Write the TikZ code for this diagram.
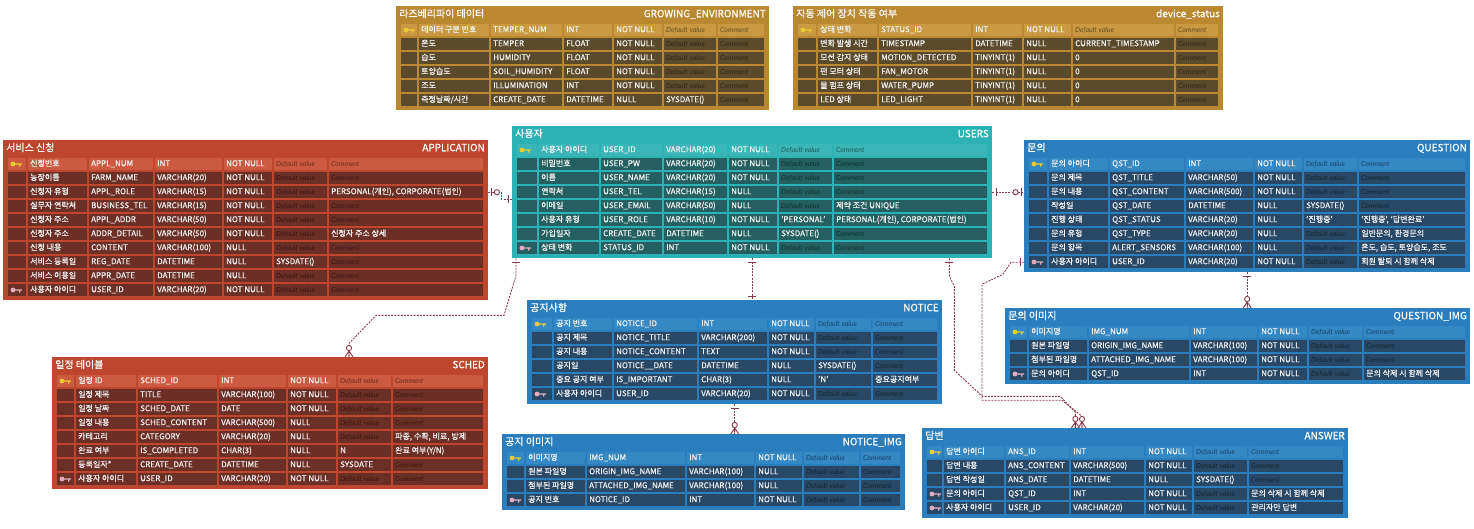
\documentclass[tikz,border=0pt]{standalone}
\usepackage{fontspec}
\setmainfont{Noto Sans CJK KR}[UprightFeatures={FakeBold=0.5}]
\newfontfamily\phfont{Lato}
\definecolor{goldtop}{RGB}{185,136,48}
\definecolor{goldhead}{RGB}{201,154,66}
\definecolor{goldbody}{RGB}{92,74,44}
\definecolor{redtop}{RGB}{190,70,46}
\definecolor{redhead}{RGB}{204,90,64}
\definecolor{redbody}{RGB}{108,47,37}
\definecolor{tealtop}{RGB}{44,178,180}
\definecolor{tealhead}{RGB}{58,182,184}
\definecolor{tealbody}{RGB}{36,96,98}
\definecolor{bluetop}{RGB}{42,126,190}
\definecolor{bluehead}{RGB}{52,136,196}
\definecolor{bluebody}{RGB}{40,72,102}
\definecolor{relcol}{RGB}{140,55,75}
\definecolor{pkcol}{RGB}{232,204,48}
\definecolor{fkcol}{RGB}{226,172,192}
\tikzset{
  tabframe/.style={anchor=north west,inner sep=0,draw=none},
  rowbox/.style={anchor=north west,inner sep=0,minimum height=14pt,draw=none},
  ttl/.style={inner sep=0,text=white,text height=7.5pt,text depth=2pt,font=\fontsize{10}{11}\selectfont},
  cell/.style={anchor=west,inner sep=0,text=white!95!black,text height=5.8pt,text depth=1.4pt,font=\fontsize{8}{9}\selectfont},
  pk/.style={fill=pkcol},
  fk/.style={fill=fkcol},
  nk/.style={opacity=0},
  rel/.style={draw=relcol,line width=0.9,dash pattern=on 2pt off 1.2pt},
  relmark/.style={draw=relcol,line width=0.9,solid},
  pone/.pic={\draw[relmark] (4,-4) -- (4,4);},
  pzeroone/.pic={\draw[relmark] (3,-4) -- (3,4); \draw[relmark,fill=white] (8.5,0) circle (2.6);},
  pzeromany/.pic={\draw[relmark] (0,-4) -- (6,0) -- (0,4) (0,0) -- (6,0); \draw[relmark,fill=white] (9,0) circle (2.6);}
}
% placeholders in the default and comment columns
\newcommand{\dflt}{{\color{\phc}\phfont\itshape\fontsize{7}{8}\selectfont Default value}}
\newcommand{\cmnt}{{\color{\phc}\phfont\itshape\fontsize{7}{8}\selectfont Comment}}
% #1 name, #2 colour set, #3 top, #4 rows, #5 korean title, #6 table name, #7 rows
\newcommand{\erdtable}[7]{%
  \node[tabframe,fill=#2top,minimum width={(\cR-\cK+8)*1pt},minimum height={(20+14*#4)*1pt}] (#1) at (\cK-4,#3) {};
  \node[ttl,anchor=west] (#1-kor) at (\cK-1,#3+8.5) {#5};
  \node[ttl,anchor=east] (#1-eng) at (\cR+1,#3+8.5) {#6};
  \foreach[count=\i] \ky/\lo/\py/\ty/\nn/\dfv/\cmt in {#7}{
    \pgfmathsetmacro\ry{#3+17+14*(\i-1)}
    \ifnum\i=1 \def\rc{#2head}\def\phc{#2head!50!black}\else\def\rc{#2body}\def\phc{#2body!50!black}\fi
    \node[rowbox,minimum width={(\cR-\cK)*1pt}] (#1-\i) at (\cK,\ry) {};
    \foreach \u/\v in {\cK/\cL,\cL/\cP,\cP/\cT,\cT/\cN,\cN/\cD,\cD/\cC,\cC/\cR}
      \fill[\rc] (\u+0.6,\ry+0.6) rectangle (\v-0.6,\ry+13.4);
    \fill[\ky] (\cK+6,\ry+7) circle (2.4) (\cK+8,\ry+6.3) rectangle (\cK+15,\ry+7.7) (\cK+12,\ry+7.7) rectangle (\cK+13.3,\ry+9.6);
    \node[cell] at (\cL+3,\ry+7) {\lo};
    \node[cell] at (\cP+3,\ry+7) {\py};
    \node[cell] at (\cT+3,\ry+7) {\ty};
    \node[cell] at (\cN+3,\ry+7) {\nn};
    \node[cell] at (\cD+3,\ry+7) {\dfv};
    \node[cell] at (\cC+3,\ry+7) {\cmt};
  }
}
\begin{document}
\begin{tikzpicture}[x=1pt,y=-1pt]
\useasboundingbox (0,0) rectangle (1474,528);
% sensor data
\def\cK{400}\def\cL{418}\def\cP{490}\def\cT{563}\def\cN{613}\def\cD{663}\def\cC{717}\def\cR{765}
\erdtable{grow}{gold}{6}{6}{라즈베리파이 데이터}{GROWING\_ENVIRONMENT}{%
  pk/데이터 구분 번호/TEMPER\_NUM/INT/NOT NULL/\dflt/\cmnt,
  nk/온도/TEMPER/FLOAT/NOT NULL/\dflt/\cmnt,
  nk/습도/HUMIDITY/FLOAT/NOT NULL/\dflt/\cmnt,
  nk/토양습도/SOIL\_HUMIDITY/FLOAT/NOT NULL/\dflt/\cmnt,
  nk/조도/ILLUMINATION/INT/NOT NULL/\dflt/\cmnt,
  nk/{측정날짜/시간}/CREATE\_DATE/DATETIME/NULL/SYSDATE()/\cmnt}
% device status
\def\cK{797}\def\cL{817}\def\cP{878}\def\cT{972}\def\cN{1023}\def\cD{1072}\def\cC{1175}\def\cR{1219}
\erdtable{dev}{gold}{6}{6}{자동 제어 장치 작동 여부}{device\_status}{%
  pk/상태 변화/STATUS\_ID/INT/NOT NULL/\dflt/\cmnt,
  nk/변화 발생 시간/TIMESTAMP/DATETIME/NULL/CURRENT\_TIMESTAMP/\cmnt,
  nk/모션 감지 상태/MOTION\_DETECTED/TINYINT(1)/NULL/0/\cmnt,
  nk/팬 모터 상태/FAN\_MOTOR/TINYINT(1)/NULL/0/\cmnt,
  nk/물 펌프 상태/WATER\_PUMP/TINYINT(1)/NULL/0/\cmnt,
  nk/LED 상태/LED\_LIGHT/TINYINT(1)/NULL/0/\cmnt}
% application
\def\cK{7}\def\cL{27}\def\cP{88}\def\cT{154}\def\cN{223}\def\cD{273}\def\cC{328}\def\cR{484}
\erdtable{app}{red}{140}{10}{서비스 신청}{APPLICATION}{%
  pk/신청번호/APPL\_NUM/INT/NOT NULL/\dflt/\cmnt,
  nk/농장이름/FARM\_NAME/VARCHAR(20)/NOT NULL/\dflt/\cmnt,
  nk/신청자 유형/APPL\_ROLE/VARCHAR(15)/NOT NULL/\dflt/{PERSONAL(개인), CORPORATE(법인)},
  nk/실무자 연락처/BUSINESS\_TEL/VARCHAR(15)/NOT NULL/\dflt/\cmnt,
  nk/신청자 주소/APPL\_ADDR/VARCHAR(50)/NOT NULL/\dflt/\cmnt,
  nk/신청자 주소/ADDR\_DETAIL/VARCHAR(50)/NOT NULL/\dflt/신청자 주소 상세,
  nk/신청 내용/CONTENT/VARCHAR(100)/NULL/\dflt/\cmnt,
  nk/서비스 등록일/REG\_DATE/DATETIME/NULL/SYSDATE()/\cmnt,
  nk/서비스 이용일/APPR\_DATE/DATETIME/NULL/\dflt/\cmnt,
  fk/사용자 아이디/USER\_ID/VARCHAR(20)/NOT NULL/\dflt/\cmnt}
% users
\def\cK{516}\def\cL{538}\def\cP{600}\def\cT{663}\def\cN{728}\def\cD{778}\def\cC{833}\def\cR{988}
\erdtable{users}{teal}{126}{8}{사용자}{USERS}{%
  pk/사용자 아이디/USER\_ID/VARCHAR(20)/NOT NULL/\dflt/\cmnt,
  nk/비밀번호/USER\_PW/VARCHAR(20)/NOT NULL/\dflt/\cmnt,
  nk/이름/USER\_NAME/VARCHAR(20)/NOT NULL/\dflt/\cmnt,
  nk/연락처/USER\_TEL/VARCHAR(15)/NULL/\dflt/\cmnt,
  nk/이메일/USER\_EMAIL/VARCHAR(50)/NULL/\dflt/제약 조건 UNIQUE,
  nk/사용자 유형/USER\_ROLE/VARCHAR(10)/NOT NULL/'PERSONAL'/{PERSONAL(개인), CORPORATE(법인)},
  nk/가입일자/CREATE\_DATE/DATETIME/NULL/SYSDATE()/\cmnt,
  fk/상태 변화/STATUS\_ID/INT/NOT NULL/\dflt/\cmnt}
% question
\def\cK{1028}\def\cL{1048}\def\cP{1109}\def\cT{1185}\def\cN{1254}\def\cD{1303}\def\cC{1358}\def\cR{1466}
\erdtable{question}{blue}{140}{8}{문의}{QUESTION}{%
  pk/문의 아이디/QST\_ID/INT/NOT NULL/\dflt/\cmnt,
  nk/문의 제목/QST\_TITLE/VARCHAR(50)/NOT NULL/\dflt/\cmnt,
  nk/문의 내용/QST\_CONTENT/VARCHAR(500)/NOT NULL/\dflt/\cmnt,
  nk/작성일/QST\_DATE/DATETIME/NULL/SYSDATE()/\cmnt,
  nk/진행 상태/QST\_STATUS/VARCHAR(20)/NULL/‘진행중’/{‘진행중’, ‘답변완료’},
  nk/문의 유형/QST\_TYPE/VARCHAR(20)/NULL/\dflt/{일반문의, 환경문의},
  nk/문의 항목/ALERT\_SENSORS/VARCHAR(100)/NULL/\dflt/{온도, 습도, 토양습도, 조도},
  fk/사용자 아이디/USER\_ID/VARCHAR(20)/NOT NULL/\dflt/회원 탈퇴 시 함께 삭제}
% notice
\def\cK{531}\def\cL{553}\def\cP{613}\def\cT{698}\def\cN{768}\def\cD{815}\def\cC{872}\def\cR{938}
\erdtable{notice}{blue}{300}{6}{공지사항}{NOTICE}{%
  pk/공지 번호/NOTICE\_ID/INT/NOT NULL/\dflt/\cmnt,
  nk/공지 제목/NOTICE\_TITLE/VARCHAR(200)/NOT NULL/\dflt/\cmnt,
  nk/공지 내용/NOTICE\_CONTENT/TEXT/NOT NULL/\dflt/\cmnt,
  nk/공지일/NOTICE\_\_DATE/DATETIME/NULL/SYSDATE()/\cmnt,
  nk/중요 공지 여부/IS\_IMPORTANT/CHAR(3)/NULL/'N'/중요공지여부,
  fk/사용자 아이디/USER\_ID/VARCHAR(20)/NOT NULL/\dflt/\cmnt}
% question images
\def\cK{1009}\def\cL{1028}\def\cP{1088}\def\cT{1190}\def\cN{1258}\def\cD{1308}\def\cC{1363}\def\cR{1466}
\erdtable{qimg}{blue}{308}{4}{문의 이미지}{QUESTION\_IMG}{%
  pk/이미지명/IMG\_NUM/INT/NOT NULL/\dflt/\cmnt,
  nk/원본 파일명/ORIGIN\_IMG\_NAME/VARCHAR(100)/NOT NULL/\dflt/\cmnt,
  nk/첨부된 파일명/ATTACHED\_IMG\_NAME/VARCHAR(100)/NOT NULL/\dflt/\cmnt,
  fk/문의 아이디/QST\_ID/INT/NOT NULL/\dflt/문의 삭제 시 함께 삭제}
% schedule
\def\cK{56}\def\cL{75}\def\cP{137}\def\cT{218}\def\cN{287}\def\cD{337}\def\cC{392}\def\cR{484}
\erdtable{sched}{red}{357}{8}{일정 테이블}{SCHED}{%
  pk/일정 ID/SCHED\_ID/INT/NOT NULL/\dflt/\cmnt,
  nk/일정 제목/TITLE/VARCHAR(100)/NOT NULL/\dflt/\cmnt,
  nk/일정 날짜/SCHED\_DATE/DATE/NOT NULL/\dflt/\cmnt,
  nk/일정 내용/SCHED\_CONTENT/VARCHAR(500)/NULL/\dflt/\cmnt,
  nk/카테고리/CATEGORY/VARCHAR(20)/NULL/\dflt/{파종, 수확, 비료, 방제},
  nk/완료 여부/IS\_COMPLETED/CHAR(3)/NULL/N/{완료 여부(Y/N)},
  nk/등록일자*/CREATE\_DATE/DATETIME/NULL/SYSDATE/\cmnt,
  fk/사용자 아이디/USER\_ID/VARCHAR(20)/NOT NULL/\dflt/\cmnt}
% notice images
\def\cK{506}\def\cL{525}\def\cP{586}\def\cT{686}\def\cN{755}\def\cD{803}\def\cC{860}\def\cR{901}
\erdtable{nimg}{blue}{434}{4}{공지 이미지}{NOTICE\_IMG}{%
  pk/이미지명/IMG\_NUM/INT/NOT NULL/\dflt/\cmnt,
  nk/원본 파일명/ORIGIN\_IMG\_NAME/VARCHAR(100)/NULL/\dflt/\cmnt,
  nk/첨부된 파일명/ATTACHED\_IMG\_NAME/VARCHAR(100)/NULL/\dflt/\cmnt,
  fk/공지 번호/NOTICE\_ID/INT/NOT NULL/\dflt/\cmnt}
% answer
\def\cK{926}\def\cL{943}\def\cP{1005}\def\cT{1070}\def\cN{1145}\def\cD{1193}\def\cC{1248}\def\cR{1344}
\erdtable{answer}{blue}{428}{5}{답변}{ANSWER}{%
  pk/답변 아이디/ANS\_ID/INT/NOT NULL/\dflt/\cmnt,
  nk/답변 내용/ANS\_CONTENT/VARCHAR(500)/NOT NULL/\dflt/\cmnt,
  nk/답변 작성일/ANS\_DATE/DATETIME/NULL/SYSDATE()/\cmnt,
  fk/문의 아이디/QST\_ID/INT/NOT NULL/\dflt/문의 삭제 시 함께 삭제,
  fk/사용자 아이디/USER\_ID/VARCHAR(20)/NOT NULL/\dflt/관리자만 답변}
% relations
\draw[rel] (app.east |- app-3) -- ++(13,0) |- (users.west |- users-4.south);
\draw[rel] (users.south -| users-8.west) -- ++(0,17) -- ++(-12,40) -- ++(-128,0) -- ++(-27,28) coordinate (sbend) -- (sbend |- sched.north);
\draw[rel] (users.south) -- (users.south |- notice.north);
\draw[rel] (notice.south) -- (notice.south |- nimg.north);
\draw[rel] (users.east |- question-3) -- (question.west |- question-3);
\draw[rel] (question.south) -- (question.south |- qimg.north);
\draw[rel] ([xshift=-43]users.south east) -- ++(0,18) -- ++(5,10) -- ++(0,84) -- ++(28,26) -- ++(78,0) -- ++(15,16) coordinate (abend1) -- (abend1 |- answer.north);
\draw[rel] (question.west |- question-8) -- ++(-13,0) -- ++(-8,12) -- ++(-21,10) -- ++(0,116) -- ++(80,0) -- ++(20,16) coordinate (abend2) -- (abend2 |- answer.north);
\pic at (app.east |- app-3) {pzeroone};
\pic[rotate=180] at (users.west |- users-4.south) {pone};
\pic[rotate=-90] at (users.south -| users-8.west) {pone};
\pic[rotate=90] at (sbend |- sched.north) {pzeromany};
\pic[rotate=-90] at (users.south) {pone};
\pic[rotate=90] at (users.south |- notice.north) {pone};
\pic[rotate=-90] at (notice.south) {pone};
\pic[rotate=90] at (notice.south |- nimg.north) {pzeromany};
\pic at (users.east |- question-3) {pone};
\pic[rotate=180] at (question.west |- question-3) {pzeroone};
\pic[rotate=-90] at (question.south) {pone};
\pic[rotate=90] at (question.south |- qimg.north) {pzeromany};
\pic[rotate=-90] at ([xshift=-43]users.south east) {pone};
\pic[rotate=90] at (abend1 |- answer.north) {pzeromany};
\pic[rotate=180] at (question.west |- question-8) {pone};
\pic[rotate=90] at (abend2 |- answer.north) {pzeromany};
\end{tikzpicture}
\end{document}
